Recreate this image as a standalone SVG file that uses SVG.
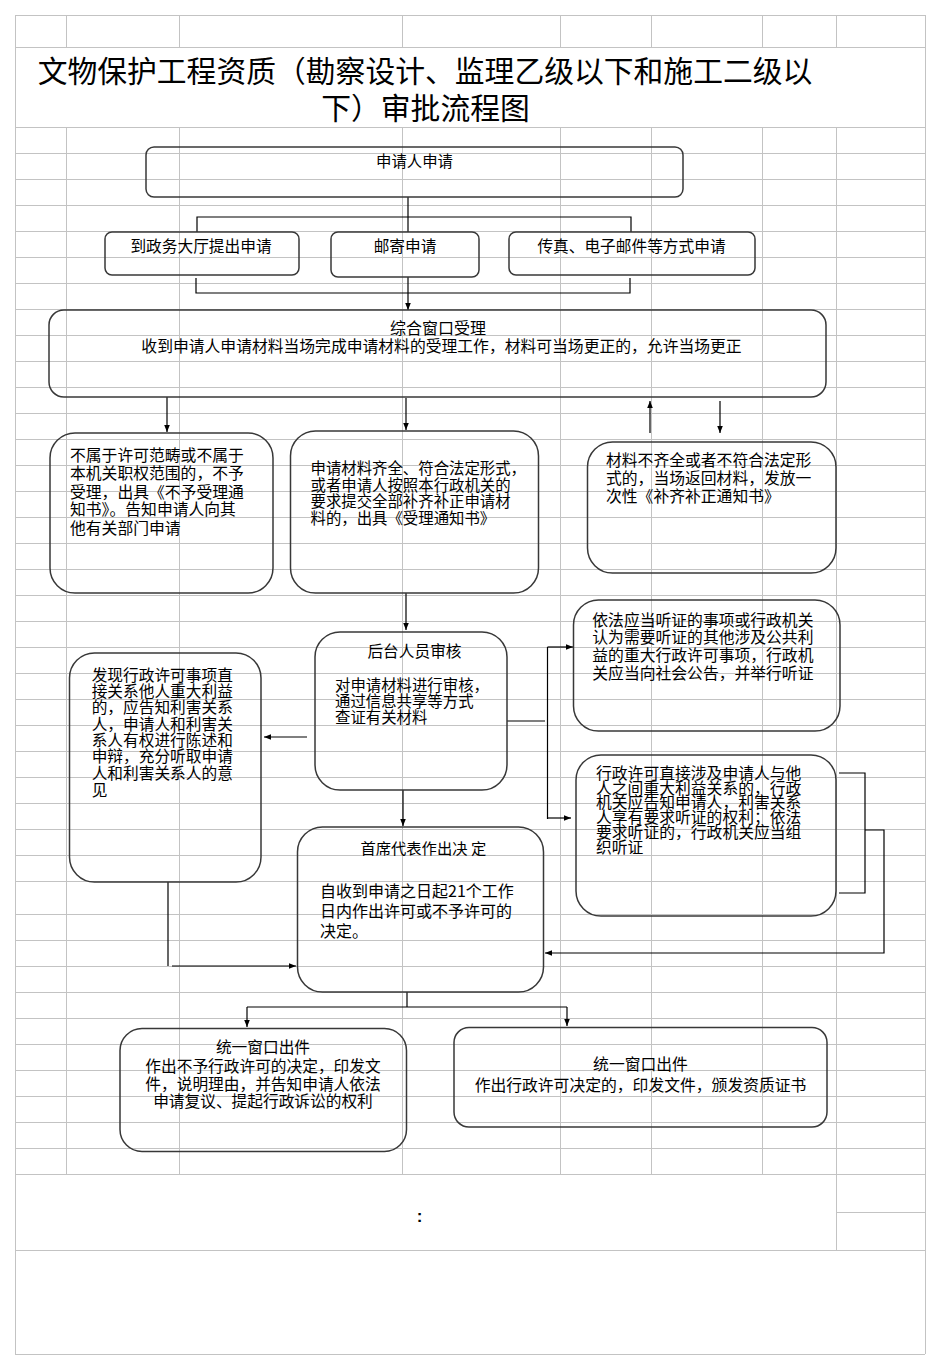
<svg xmlns="http://www.w3.org/2000/svg" width="941" height="1370" viewBox="0 0 941 1370">
<defs>
<style>
.grid{stroke:#c3c3c3;stroke-width:1;fill:none}
.box{fill:none;stroke:#383838;stroke-width:1.5}
.con{fill:none;stroke:#000;stroke-width:1.2}
text{font-family:"Noto Sans CJK SC","Noto Sans",sans-serif;fill:#000}
.t16{font-size:15.8px}
.t15{font-size:15.4px}
.mid{text-anchor:middle}
</style>
<marker id="ah" viewBox="0 0 10 10" refX="10" refY="5" markerWidth="7" markerHeight="7" orient="auto" markerUnits="userSpaceOnUse"><path d="M0,1 L10,5 L0,9 z" fill="#000"/></marker>
</defs>
<rect x="0" y="0" width="941" height="1370" fill="#fff"/>
<g id="grid" class="grid">
<path d="M15.5,15V1354M925.5,15V1354M836.5,15V47M836.5,127V1250"/>
<path d="M66.5,15V47M179.5,15V47M402.5,15V47M560.5,15V47M651.5,15V47M762.5,15V47"/>
<path d="M66.5,127V1174M179.5,127V1174M402.5,127V1174M560.5,127V1174M651.5,127V1174M762.5,127V1174"/>
<path d="M15,15.5H925M15,47.5H925M15,127.5H925M15,153.5H925M15,179.5H925M15,205.5H925M15,231.5H925M15,257.5H925M15,283.5H925M15,309.5H925M15,335.5H925M15,361.5H925M15,387.5H925M15,413.5H925M15,439.5H925M15,465.5H925M15,491.5H925M15,517.5H925M15,543.5H925M15,569.5H925M15,595.5H925M15,621.5H925M15,647.5H925M15,673.5H925M15,699.5H925M15,725.5H925M15,751.5H925M15,777.5H925M15,803.5H925M15,829.5H925M15,855.5H925M15,881.5H925"/>
<path d="M15,914.5H925M15,940.5H925M15,966.5H925M15,992.5H925M15,1018.5H925M15,1044.5H925M15,1070.5H925M15,1096.5H925M15,1122.5H925M15,1148.5H925M15,1174.5H925M15,1250.5H925M15,1354.5H925M836,1212.5H925"/>
</g>
<g id="title">
<text x="425" y="82" class="mid" style="font-size:29.8px">文物保护工程资质（勘察设计、监理乙级以下和施工二级以</text>
<text x="425.5" y="118.5" class="mid" style="font-size:29.8px">下）审批流程图</text>
</g>
<g id="connectors">
<path class="con" d="M408,197V232"/>
<path class="con" d="M197,232V217H631V232"/>
<path class="con" d="M196,278V293H630V278"/>
<path class="con" d="M408,277V310" marker-end="url(#ah)"/>
<path class="con" d="M167,397V432" marker-end="url(#ah)"/>
<path class="con" d="M406,398V430" marker-end="url(#ah)"/>
<path class="con" d="M650,433V401" marker-end="url(#ah)"/>
<path class="con" d="M720,401V433" marker-end="url(#ah)"/>
<path class="con" d="M406,593V630" marker-end="url(#ah)"/>
<path class="con" d="M507,721H545"/>
<path class="con" d="M547.5,647V819"/>
<path class="con" d="M547.5,647H573" marker-end="url(#ah)"/>
<path class="con" d="M547.5,818H571" marker-end="url(#ah)"/>
<path class="con" d="M307,737H264" marker-end="url(#ah)"/>
<path class="con" d="M403,790V826" marker-end="url(#ah)"/>
<path class="con" d="M168,882V966"/>
<path class="con" d="M172,966H296" marker-end="url(#ah)"/>
<path class="con" d="M839,773H865V893H839"/>
<path class="con" d="M865,830H884V953H545" marker-end="url(#ah)"/>
<path class="con" d="M407,992V1007"/>
<path class="con" d="M247,1007H567"/>
<path class="con" d="M247,1007V1027" marker-end="url(#ah)"/>
<path class="con" d="M567,1007V1026" marker-end="url(#ah)"/>
</g>
<g id="n-apply">
<rect class="box" x="146" y="147" width="537" height="50" rx="8"/>
<text x="414.5" y="167" class="mid" style="font-size:15.4px">申请人申请</text>
</g>
<g id="n-hall">
<rect class="box" x="105" y="232" width="194" height="43" rx="7"/>
<text x="201" y="252" class="mid" style="font-size:15.7px">到政务大厅提出申请</text>
</g>
<g id="n-mail">
<rect class="box" x="331" y="232" width="148" height="45" rx="7"/>
<text x="405" y="252" class="mid" style="font-size:15.7px">邮寄申请</text>
</g>
<g id="n-fax">
<rect class="box" x="509" y="232" width="246" height="43" rx="7"/>
<text x="631.5" y="252" class="mid" style="font-size:15.7px">传真、电子邮件等方式申请</text>
</g>
<g id="n-window">
<rect class="box" x="49" y="310" width="777" height="87" rx="15"/>
<text x="438" y="334" class="mid" style="font-size:16px">综合窗口受理</text>
<text x="441.5" y="352" class="mid" style="font-size:15.8px">收到申请人申请材料当场完成申请材料的受理工作，材料可当场更正的，允许当场更正</text>
</g>
<g id="n-reject">
<rect class="box" x="50" y="433" width="223" height="160" rx="25"/>
<text class="t16"><tspan x="70" y="460.5">不属于许可范畴或不属于</tspan><tspan x="70" y="479">本机关职权范围的，不予</tspan><tspan x="70" y="497.5">受理，出具《不予受理通</tspan><tspan x="70" y="515">知书》。告知申请人向其</tspan><tspan x="70" y="533.5">他有关部门申请</tspan></text>
</g>
<g id="n-accept">
<rect class="box" x="290.5" y="431" width="248" height="162" rx="25"/>
<text class="t15"><tspan x="310.5" y="474">申请材料齐全、符合法定形式，</tspan><tspan x="310.5" y="490.7">或者申请人按照本行政机关的</tspan><tspan x="310.5" y="507.3">要求提交全部补齐补正申请材</tspan><tspan x="310.5" y="524">料的，出具《受理通知书》</tspan></text>
</g>
<g id="n-supplement">
<rect class="box" x="587.5" y="442" width="248.5" height="131" rx="25"/>
<text class="t16"><tspan x="606" y="465.7">材料不齐全或者不符合法定形</tspan><tspan x="606" y="484">式的，当场返回材料，发放一</tspan><tspan x="606" y="502.3">次性《补齐补正通知书》</tspan></text>
</g>
<g id="n-review">
<rect class="box" x="315" y="632" width="192" height="158" rx="25"/>
<text x="414.5" y="657" class="mid" style="font-size:15.7px">后台人员审核</text>
<text class="t15"><tspan x="335" y="690.7">对申请材料进行审核，</tspan><tspan x="335" y="707.3">通过信息共享等方式</tspan><tspan x="335" y="723">查证有关材料</tspan></text>
</g>
<g id="n-hearing1">
<rect class="box" x="573.5" y="600" width="266.5" height="131" rx="25"/>
<text class="t16"><tspan x="592.3" y="625.7">依法应当听证的事项或行政机关</tspan><tspan x="592.3" y="643.3">认为需要听证的其他涉及公共利</tspan><tspan x="592.3" y="661.3">益的重大行政许可事项，行政机</tspan><tspan x="592.3" y="679">关应当向社会公告，并举行听证</tspan></text>
</g>
<g id="n-hearing2">
<rect class="box" x="576" y="755" width="260" height="161" rx="25"/>
<text class="t16"><tspan x="596" y="779">行政许可直接涉及申请人与他</tspan><tspan x="596" y="794">人之间重大利益关系的，行政</tspan><tspan x="596" y="808.3">机关应告知申请人，利害关系</tspan><tspan x="596" y="823">人享有要求听证的权利；依法</tspan><tspan x="596" y="838.3">要求听证的，行政机关应当组</tspan><tspan x="596" y="853">织听证</tspan></text>
</g>
<g id="n-interest">
<rect class="box" x="69.5" y="653" width="191.5" height="229" rx="25"/>
<text style="font-size:15.7px"><tspan x="91.7" y="680.7">发现行政许可事项直</tspan><tspan x="91.7" y="696.7">接关系他人重大利益</tspan><tspan x="91.7" y="713.3">的，应告知利害关系</tspan><tspan x="91.7" y="729.7">人，申请人和利害关</tspan><tspan x="91.7" y="746.3">系人有权进行陈述和</tspan><tspan x="91.7" y="762.3">申辩，充分听取申请</tspan><tspan x="91.7" y="779">人和利害关系人的意</tspan><tspan x="91.7" y="795.7">见</tspan></text>
</g>
<g id="n-decision">
<rect class="box" x="297.5" y="827" width="246" height="165" rx="25"/>
<text x="423.3" y="854" class="mid" style="font-size:15.3px">首席代表作出决 定</text>
<text style="font-size:16px"><tspan x="320" y="897.3">自收到申请之日起21个工作</tspan><tspan x="320" y="916.7">日内作出许可或不予许可的</tspan><tspan x="320" y="937.3">决定。</tspan></text>
</g>
<g id="n-out-deny">
<rect class="box" x="120" y="1028.5" width="286.5" height="123" rx="22"/>
<text class="mid" style="font-size:15.7px"><tspan x="263" y="1053">统一窗口出件</tspan><tspan x="263" y="1071.7">作出不予行政许可的决定，印发文</tspan><tspan x="263" y="1090">件，说明理由，并告知申请人依法</tspan><tspan x="263" y="1107.3">申请复议、提起行政诉讼的权利</tspan></text>
</g>
<g id="n-out-grant">
<rect class="box" x="454" y="1027.5" width="373" height="99.5" rx="15"/>
<text class="mid t16"><tspan x="640.5" y="1069.7">统一窗口出件</tspan><tspan x="640.5" y="1090.7">作出行政许可决定的，印发文件，颁发资质证书</tspan></text>
</g>
<text x="419.5" y="1222" class="mid" style="font-family:'Liberation Sans',sans-serif;font-size:17px;font-weight:bold">:</text>
</svg>
